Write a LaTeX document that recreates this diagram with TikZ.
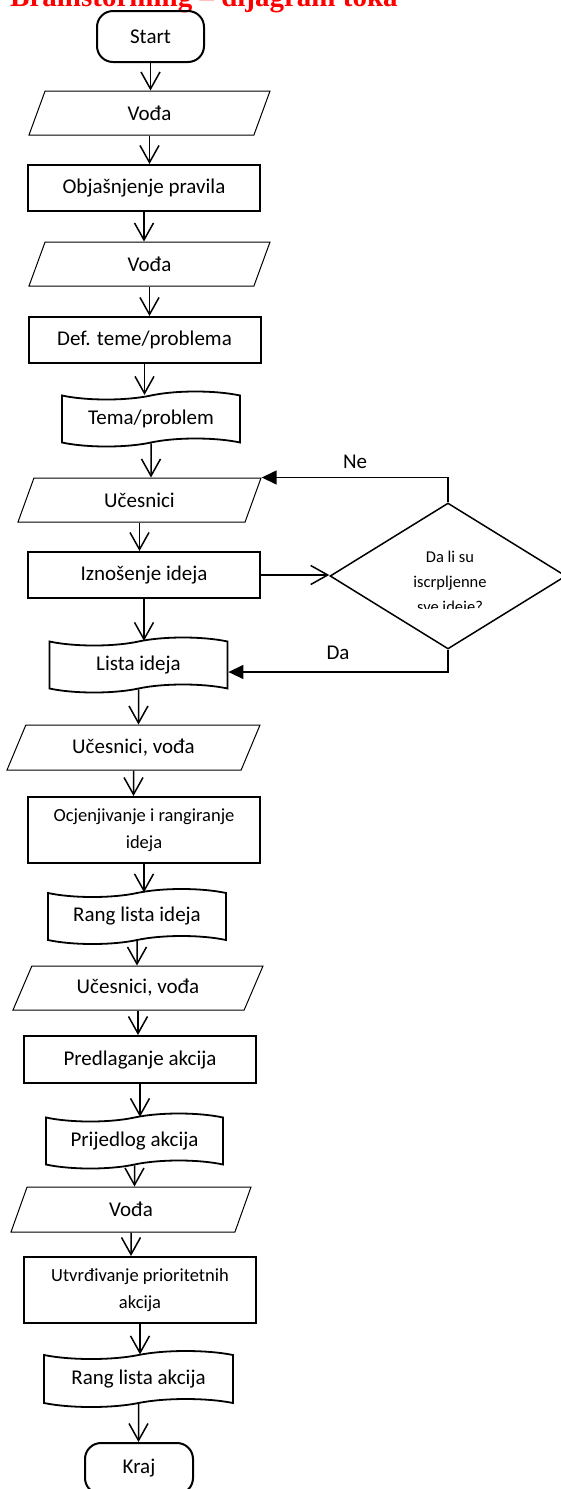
\documentclass[tikz,border=0pt]{standalone}
\usepackage{fontspec}
\setmainfont{Carlito}
\newfontfamily\titlefont{Liberation Serif}
\usetikzlibrary{arrows.meta}
\usetikzlibrary{positioning}
\usetikzlibrary{shapes.geometric}
\usetikzlibrary{shapes.symbols}
\definecolor{red1}{RGB}{255,0,0}

\tikzset{
	terminal/.style={draw, line width=2pt, rounded corners=16pt, minimum width=107pt, minimum height=51pt, font=\fontsize{21}{25}\selectfont},
	process/.style={draw, line width=2pt, minimum width=232pt, minimum height=46pt, inner sep=0pt, align=center, font=\fontsize{21}{25}\selectfont},
	io/.style={draw, line width=1pt, trapezium, trapezium left angle=42.5, trapezium right angle=137.5, trapezium stretches body, minimum width=241pt, minimum height=44pt, inner sep=0pt, font=\fontsize{21}{25}\selectfont},
	punch/.style={draw, line width=1.8pt, tape, tape bend height=8pt, minimum width=178pt, minimum height=55pt, inner sep=0pt, font=\fontsize{21}{25}\selectfont},
	decision/.style={draw, line width=1.5pt, diamond, minimum width=236pt, minimum height=146pt, inner sep=0pt},
	smalltext/.style={font=\fontsize{18.5}{27}\selectfont},
	flow/.style={line width=1.5pt, -{Straight Barb[length=17pt,width=19pt]}},
	back/.style={line width=1.5pt, -{Triangle[length=15pt,width=14pt]}},
}

\begin{document}
\begin{tikzpicture}[x=1pt,y=-1pt]

	\useasboundingbox (0,0) rectangle (560,1489);

	%%% Title
	\node[anchor=base west, inner sep=0pt, text=red1, font=\titlefont\bfseries\fontsize{29}{33}\selectfont] (title) at (10,6.5) {Brainstorming – dijagram toka};

	%%% Main column
	\node[terminal] (start) at (150.5,36.5) {Start};
	\node[io] (voda1) at (149.5,113) {Vođa};
	\node[process] (pravila) at (144,188) {Objašnjenje pravila};
	\node[io] (voda2) at (149.5,264) {Vođa};
	\node[process] (tema) at (144.5,340) {Def. teme/problema};
	\node[punch] (temadoc) at (151,419) {Tema/problem};
	\node[io, minimum width=243pt] (ucesnici) at (139.5,500) {Učesnici};
	\node[process] (iznos) at (144,575) {Iznošenje ideja};
	\node[punch] (lista) at (138.5,665) {Lista ideja};
	\node[io, minimum width=253pt, minimum height=45pt] (uv1) at (133.5,747.5) {Učesnici, vođa};
	\node[process, smalltext, minimum height=66pt] (ocj) at (144,830) {Ocjenjivanje i rangiranje\\ideja};
	\node[punch] (rang1) at (137,916.5) {Rang lista ideja};
	\node[io, minimum width=250pt] (uv2) at (138,988) {Učesnici, vođa};
	\node[process, minimum height=47pt] (pred) at (140,1059.5) {Predlaganje akcija};
	\node[punch, minimum width=177pt] (prij) at (134.5,1141) {Prijedlog akcija};
	\node[io, minimum width=240pt, minimum height=45pt] (voda3) at (131,1209.5) {Vođa};
	\node[process, smalltext, minimum height=66pt] (utv) at (140,1290) {Utvrđivanje prioritetnih\\akcija};
	\node[punch, minimum width=189pt, minimum height=56pt] (rang2) at (138.5,1379) {Rang lista akcija};
	\node[terminal, minimum width=108pt] (kraj) at (139,1468.5) {Kraj};

	%%% Decision (last line of its text is cut by the text box)
	\node[decision] (dec) at (448,576) {};
	\begin{scope}
		\clip (300,500) rectangle (560,608);
		\node[align=center, font=\fontsize{16.5}{25}\selectfont] (dectext) at (450,583.5) {Da li su\\iscrpljenne\\sve ideje?};
	\end{scope}
	\node[font=\fontsize{21}{25}\selectfont] (ne) at (355,462) {Ne};
	\node[font=\fontsize{21}{25}\selectfont] (da) at (338,653) {Da};

	%%% Flow arrows
	\draw[flow] (start) -- (start |- voda1.north);
	\draw[flow] (voda1) -- (voda1 |- pravila.north);
	\draw[flow] (pravila) -- (pravila |- voda2.north);
	\draw[flow] (voda2) -- (voda2 |- tema.north);
	\draw[flow] (tema) -- (tema |- temadoc.north);
	\draw[flow] (temadoc) -- (temadoc |- ucesnici.north);
	\draw[flow] (ucesnici) -- (ucesnici |- iznos.north);
	\draw[flow] (iznos) -- (iznos |- lista.north);
	\draw[flow] (lista) -- (lista |- uv1.north);
	\draw[flow] (uv1) -- (uv1 |- ocj.north);
	\draw[flow] (ocj) -- (ocj |- rang1.north);
	\draw[flow] (rang1) -- (rang1 |- uv2.north);
	\draw[flow] (uv2) -- (uv2 |- pred.north);
	\draw[flow] (pred) -- (pred |- prij.north);
	\draw[flow] (prij) -- (prij |- voda3.north);
	\draw[flow] (voda3) -- (voda3 |- utv.north);
	\draw[flow] (utv) -- (utv |- rang2.north);
	\draw[flow] (rang2) -- (rang2 |- kraj.north);

	%%% Loop through the decision
	\draw[flow] (iznos.east) -- (iznos.east -| dec.west);
	\draw[back] (dec.north) |- (ucesnici.top right corner);
	\draw[back] (dec.south) |- ([yshift=-7pt]lista.east);

\end{tikzpicture}
\end{document}
